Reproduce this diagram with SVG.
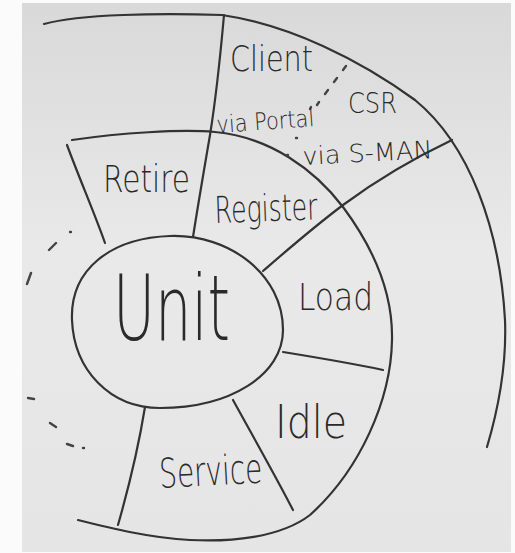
<svg xmlns="http://www.w3.org/2000/svg" width="515" height="553" viewBox="0 0 515 553">
<defs>
<linearGradient id="bg" x1="0" y1="0" x2="0" y2="1">
<stop offset="0" stop-color="#d9d9d9"/>
<stop offset="0.45" stop-color="#e9e9e9"/>
<stop offset="1" stop-color="#e5e5e5"/>
</linearGradient>
<style>
.ln{fill:none;stroke:#333;stroke-width:2.2;stroke-linecap:round;stroke-linejoin:round}
.dash{fill:none;stroke:#444;stroke-width:2.4;stroke-linecap:round}
.t{font-family:"DejaVu Sans","Liberation Sans",Arial,sans-serif;font-weight:200;fill:#2a2a2a}
</style>
</defs>
<rect x="0" y="0" width="515" height="553" fill="#fbfbfb"/>
<rect x="22" y="3" width="489" height="549" fill="url(#bg)"/>
<g id="connectors">
<path class="ln" d="M44,24 C80,14 160,13 222,15 C290,25 360,60 415,100 C470,145 500,230 505,320 C507,370 495,420 487,447"/>
<path class="ln" d="M72,140 C120,133 180,129 215,132 C270,137 315,170 343,207 C375,250 393,295 392,340 C391,400 360,470 310,515 C280,538 230,542 190,540 C150,538 110,528 78,520"/>
<path class="ln" d="M67,145 C80,180 94,212 105,243"/>
<path class="ln" d="M224,15 C220,60 214,110 210,135 C204,170 198,205 193,237"/>
<path class="ln" d="M452,140 C410,160 370,185 343,205 C310,230 285,252 263,271"/>
<path class="ln" d="M283,352 C320,358 355,364 383,370"/>
<path class="ln" d="M233,400 C255,440 275,475 293,510"/>
<path class="ln" d="M145,407 C138,450 128,490 118,525"/>
<g id="dots-left">
<path class="dash" d="M70,232 L71,232 M49,250 L56,243 M27,284 L31,273 M28,398 L34,399 M50,423 L56,427 M67,444 L73,446 M83,448 L84,448"/>
</g>
<g id="dots-csr">
<path class="dash" d="M343,70 L346,66 M334,82 L337,78 M325,94 L328,90 M317,105 L319,102 M310,109 L311,107 M296,138 L297,138 M287,155 L288,155"/>
</g>
</g>
<g id="unit">
<path class="ln" d="M72,320 C70,270 110,238 170,236 C230,234 283,275 283,330 C283,375 230,408 160,408 C110,408 74,370 72,320 Z"/>
<text class="t" x="113" y="340" font-size="90" textLength="117" lengthAdjust="spacingAndGlyphs">Unit</text>
</g>
<g id="client"><text class="t" x="230" y="71" font-size="35" textLength="83" lengthAdjust="spacingAndGlyphs">Client</text></g>
<g id="csr"><text class="t" x="348" y="113" font-size="28" textLength="49" lengthAdjust="spacingAndGlyphs">CSR</text></g>
<g id="via-portal"><text class="t" x="217" y="133" font-size="24" textLength="98" lengthAdjust="spacingAndGlyphs" transform="rotate(-4 217 133)">via Portal</text></g>
<g id="via-sman"><text class="t" x="303" y="165" font-size="25" textLength="130" lengthAdjust="spacingAndGlyphs" transform="rotate(-3 303 165)">via S-MAN</text></g>
<g id="retire"><text class="t" x="103" y="192" font-size="37" textLength="87" lengthAdjust="spacingAndGlyphs">Retire</text></g>
<g id="register"><text class="t" x="215" y="223" font-size="37" textLength="103" lengthAdjust="spacingAndGlyphs" transform="rotate(-2 215 223)">Register</text></g>
<g id="load"><text class="t" x="298" y="310" font-size="37" textLength="75" lengthAdjust="spacingAndGlyphs">Load</text></g>
<g id="idle"><text class="t" x="275" y="438" font-size="46" textLength="72" lengthAdjust="spacingAndGlyphs">Idle</text></g>
<g id="service"><text class="t" x="160" y="488" font-size="41" textLength="103" lengthAdjust="spacingAndGlyphs" transform="rotate(-3 160 488)">Service</text></g>
</svg>
